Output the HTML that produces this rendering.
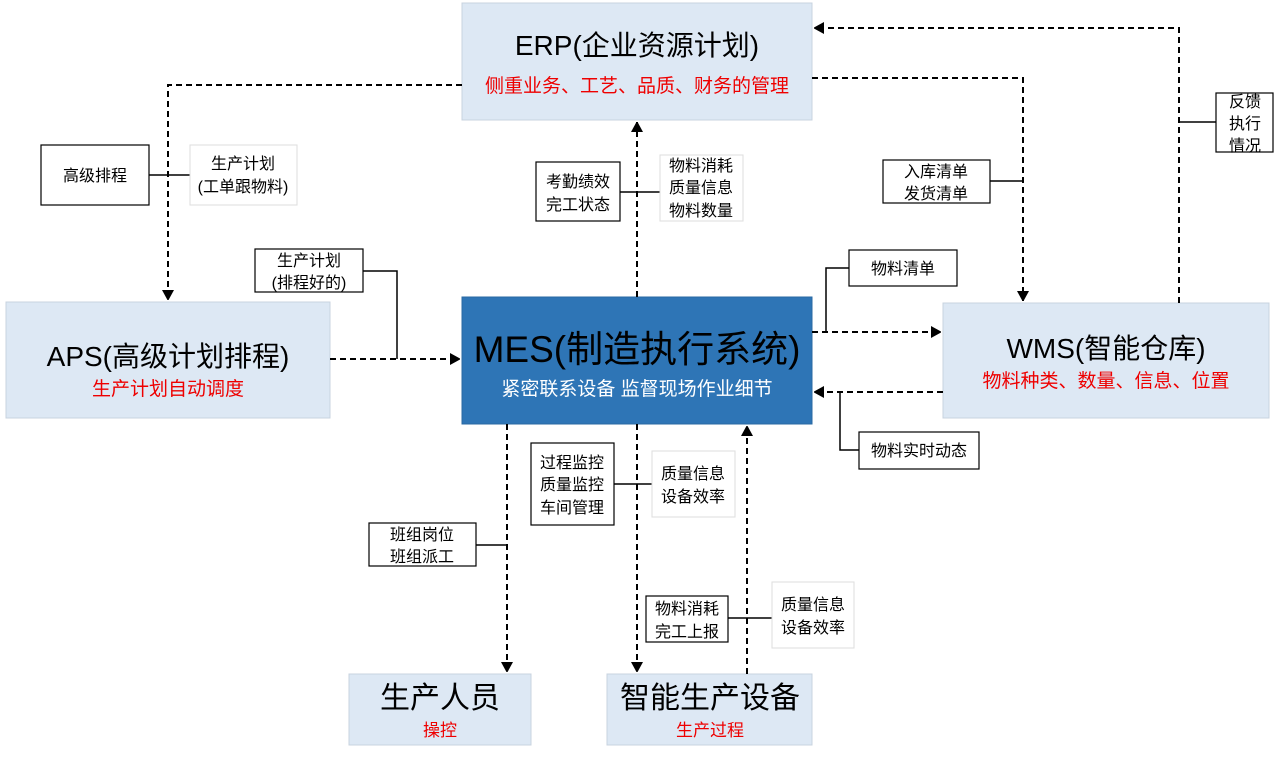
<!DOCTYPE html>
<html><head><meta charset="utf-8"><style>
html,body{margin:0;padding:0;background:#fff;}
svg text{font-family:"Liberation Sans","Noto Sans CJK SC",sans-serif;}
</style></head><body>
<svg width="1281" height="755" viewBox="0 0 1281 755" xmlns="http://www.w3.org/2000/svg">
<defs>
<marker id="a" markerWidth="10" markerHeight="12" refX="10" refY="6" orient="auto" markerUnits="userSpaceOnUse"><path d="M0,0 L11,6 L0,12 z" fill="#000"/></marker>
</defs>
<rect x="462" y="3" width="350" height="117" fill="#dde8f4" stroke="#c8d3df"/>
<text x="637" y="55" font-size="28" text-anchor="middle">ERP(企业资源计划)</text>
<text x="637" y="92" font-size="19" fill="#e00" text-anchor="middle">侧重业务、工艺、品质、财务的管理</text>

<rect x="6" y="302" width="324" height="116" fill="#dde8f4" stroke="#c8d3df"/>
<text x="168" y="366" font-size="28" text-anchor="middle">APS(高级计划排程)</text>
<text x="168" y="395" font-size="19" fill="#e00" text-anchor="middle">生产计划自动调度</text>

<rect x="462" y="297" width="350" height="127" fill="#2e75b6" stroke="#2a69a3"/>
<text x="637" y="362" font-size="37" text-anchor="middle" fill="#000">MES(制造执行系统)</text>
<text x="637" y="395" font-size="19" text-anchor="middle" fill="#fff">紧密联系设备 监督现场作业细节</text>

<rect x="943" y="303" width="326" height="115" fill="#dde8f4" stroke="#c8d3df"/>
<text x="1106" y="358" font-size="28" text-anchor="middle">WMS(智能仓库)</text>
<text x="1106" y="387" font-size="19" fill="#e00" text-anchor="middle">物料种类、数量、信息、位置</text>

<rect x="349" y="674" width="182" height="71" fill="#dde8f4" stroke="#c8d3df"/>
<text x="440" y="708" font-size="30" text-anchor="middle">生产人员</text>
<text x="440" y="736" font-size="17" fill="#e00" text-anchor="middle">操控</text>

<rect x="607" y="674" width="205" height="71" fill="#dde8f4" stroke="#c8d3df"/>
<text x="710" y="708" font-size="30" text-anchor="middle">智能生产设备</text>
<text x="710" y="736" font-size="17" fill="#e00" text-anchor="middle">生产过程</text>

<g fill="none" stroke="#000" stroke-width="2" stroke-dasharray="6,4">
<path d="M462,85 H168 V300" marker-end="url(#a)"/>
<path d="M330,359 H460" marker-end="url(#a)"/>
<path d="M637,297 V122" marker-end="url(#a)"/>
<path d="M812,78 H1023 V301" marker-end="url(#a)"/>
<path d="M1179,303 V28 H814" marker-end="url(#a)"/>
<path d="M812,332 H941" marker-end="url(#a)"/>
<path d="M943,392 H814" marker-end="url(#a)"/>
<path d="M507,424 V672" marker-end="url(#a)"/>
<path d="M637,424 V672" marker-end="url(#a)"/>
<path d="M747,674 V426" marker-end="url(#a)"/>
</g>
<g fill="none" stroke="#000" stroke-width="1.5">
<path d="M149,175 H190"/>
<path d="M363,271 H397 V359"/>
<path d="M620,192 H660"/>
<path d="M990,181 H1023"/>
<path d="M1179,122 H1216"/>
<path d="M849,268 H826 V332"/>
<path d="M840,392 V450 H859"/>
<path d="M476,545 H507"/>
<path d="M614,484 H652"/>
<path d="M728,618 H772"/>
</g>
<g font-size="16" text-anchor="middle">
<rect x="41" y="145" width="108" height="60" fill="#fff" stroke="#000" stroke-width="1.2"/>
<text x="95" y="181">高级排程</text>
<rect x="190" y="145" width="107" height="60" fill="#fff" stroke="#ddd"/>
<text x="243" y="169">生产计划</text><text x="243" y="192">(工单跟物料)</text>
<rect x="255" y="249" width="108" height="43" fill="#fff" stroke="#000" stroke-width="1.2"/>
<text x="309" y="266">生产计划</text><text x="309" y="288">(排程好的)</text>
<rect x="536" y="162" width="84" height="59" fill="#fff" stroke="#000" stroke-width="1.2"/>
<text x="578" y="187">考勤绩效</text><text x="578" y="210">完工状态</text>
<rect x="660" y="155" width="83" height="66" fill="#fff" stroke="#ddd"/>
<text x="701" y="171">物料消耗</text><text x="701" y="193">质量信息</text><text x="701" y="216">物料数量</text>
<rect x="883" y="160" width="107" height="43" fill="#fff" stroke="#000" stroke-width="1.2"/>
<text x="936" y="177">入库清单</text><text x="936" y="199">发货清单</text>
<rect x="1216" y="93" width="57" height="59" fill="#fff" stroke="#000" stroke-width="1.2"/>
<text x="1245" y="107">反馈</text><text x="1245" y="129">执行</text><text x="1245" y="151">情况</text>
<rect x="849" y="250" width="108" height="36" fill="#fff" stroke="#000" stroke-width="1.2"/>
<text x="903" y="274">物料清单</text>
<rect x="859" y="432" width="120" height="37" fill="#fff" stroke="#000" stroke-width="1.2"/>
<text x="919" y="456">物料实时动态</text>
<rect x="369" y="523" width="107" height="43" fill="#fff" stroke="#000" stroke-width="1.2"/>
<text x="422" y="540">班组岗位</text><text x="422" y="562">班组派工</text>
<rect x="531" y="443" width="83" height="82" fill="#fff" stroke="#000" stroke-width="1.2"/>
<text x="572" y="468">过程监控</text><text x="572" y="490">质量监控</text><text x="572" y="513">车间管理</text>
<rect x="652" y="451" width="83" height="66" fill="#fff" stroke="#ddd"/>
<text x="693" y="479">质量信息</text><text x="693" y="502">设备效率</text>
<rect x="646" y="596" width="82" height="46" fill="#fff" stroke="#000" stroke-width="1.2"/>
<text x="687" y="614">物料消耗</text><text x="687" y="637">完工上报</text>
<rect x="772" y="582" width="82" height="66" fill="#fff" stroke="#ddd"/>
<text x="813" y="610">质量信息</text><text x="813" y="633">设备效率</text>
</g>
</svg>
</body></html>
